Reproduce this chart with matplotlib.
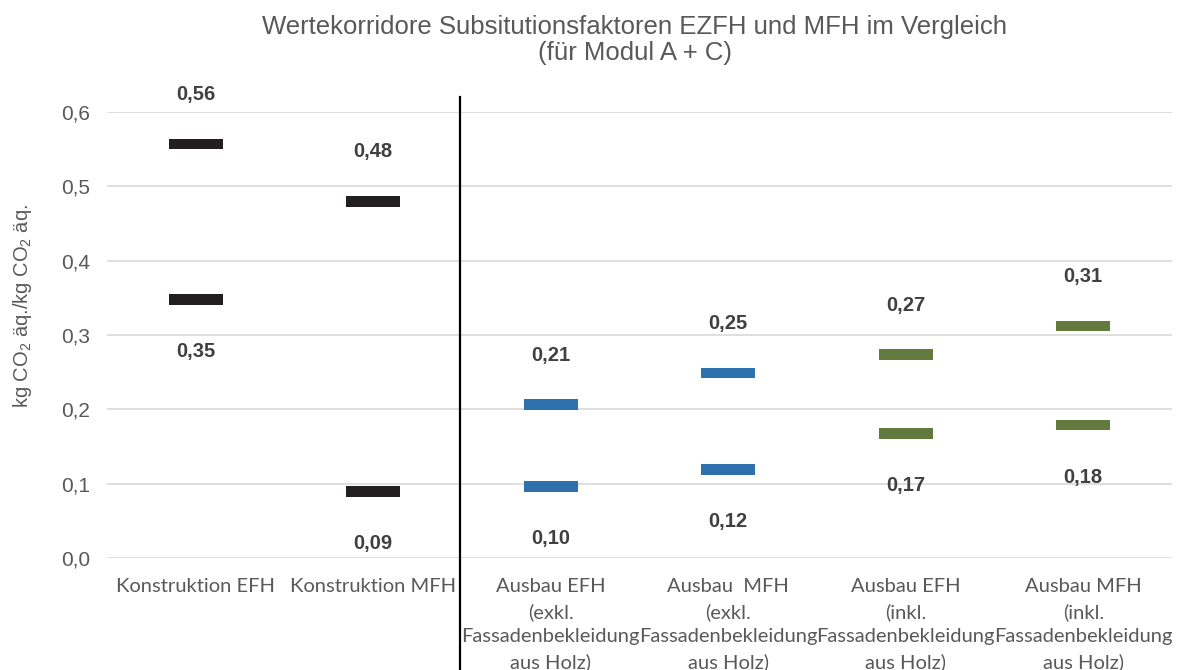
import matplotlib
matplotlib.use("Agg")
import matplotlib.pyplot as plt
from matplotlib.lines import Line2D

categories = ["Konstruktion EFH", "Konstruktion MFH",
              "Ausbau EFH\n(exkl.\nFassadenbekleidung\naus Holz)",
              "Ausbau  MFH\n(exkl.\nFassadenbekleidung\naus Holz)",
              "Ausbau EFH\n(inkl.\nFassadenbekleidung\naus Holz)",
              "Ausbau MFH\n(inkl.\nFassadenbekleidung\naus Holz)"]
upper_values = [0.557, 0.48, 0.206, 0.249, 0.274, 0.312]
lower_values = [0.348, 0.089, 0.096, 0.119, 0.168, 0.179]
upper_labels = ["0,56", "0,48", "0,21", "0,25", "0,27", "0,31"]
lower_labels = ["0,35", "0,09", "0,10", "0,12", "0,17", "0,18"]
colors = ["#231f20", "#231f20", "#2e71ad", "#2e71ad", "#637a3f", "#637a3f"]
yticks = [0.0, 0.1, 0.2, 0.3, 0.4, 0.5, 0.6]
ytick_labels = ["0,0", "0,1", "0,2", "0,3", "0,4", "0,5", "0,6"]

plt.rcParams['font.family'] = ['Liberation Sans', 'DejaVu Sans']
plt.rcParams['mathtext.fontset'] = 'custom'
plt.rcParams['mathtext.rm'] = 'Liberation Sans'
plt.rcParams['mathtext.it'] = 'Liberation Sans'

fig = plt.figure(figsize=(11.8, 6.7), dpi=100)
ax = fig.add_axes([107/1180, 112/670, (1172-107)/1180, (558-112)/670])

x = list(range(len(categories)))
thick = 0.0145
for xi, up, lo, c in zip(x, upper_values, lower_values, colors):
    ax.bar(xi, thick, bottom=up - thick/2, width=0.305, color=c, zorder=3)
    ax.bar(xi, thick, bottom=lo - thick/2, width=0.305, color=c, zorder=3)

for xi, up, lo, ul, ll in zip(x, upper_values, lower_values, upper_labels, lower_labels):
    ax.annotate(ul, (xi, up), xytext=(0, 35.5), textcoords='offset points',
                ha='center', va='center', fontsize=14.5, fontweight='bold', color='#404040')
    ax.annotate(ll, (xi, lo), xytext=(0, -37.5), textcoords='offset points',
                ha='center', va='center', fontsize=14.5, fontweight='bold', color='#404040')

ax.set_xlim(-0.5, len(categories) - 0.5)
ax.set_ylim(0, 0.6)
ax.set_yticks(yticks)
ax.set_yticklabels(ytick_labels)
ax.set_xticks(x)
ax.set_xticklabels(categories, family=['Lato', 'DejaVu Sans'], fontsize=14.5,
                   color='#595959', va='top', linespacing=1.52)
ax.tick_params(axis='x', length=0, pad=14.5)
ax.tick_params(axis='y', length=0, pad=12, labelsize=15, labelcolor='#595959')
ax.grid(axis='y', color='#d9d9d9', linewidth=1.2, zorder=0)
ax.set_axisbelow(True)
for s in ax.spines.values():
    s.set_visible(False)

ax.set_ylabel(r'kg CO$_2$ äq./kg CO$_2$ äq.', fontsize=14.5, color='#595959')
ax.yaxis.set_label_coords(-0.069, 0.565)

fig.suptitle('Wertekorridore Subsitutionsfaktoren EZFH und MFH im Vergleich\n(für Modul A + C)',
             x=635/1180, y=1 - 15/670, va='top', fontsize=18.5, color='#595959',
             linespacing=1.1)

fig.add_artist(Line2D([460/1180, 460/1180], [0, 1 - 97/670], color='black',
                      linewidth=1.6, transform=fig.transFigure))

fig.savefig('out.png', dpi=100, facecolor='white')
